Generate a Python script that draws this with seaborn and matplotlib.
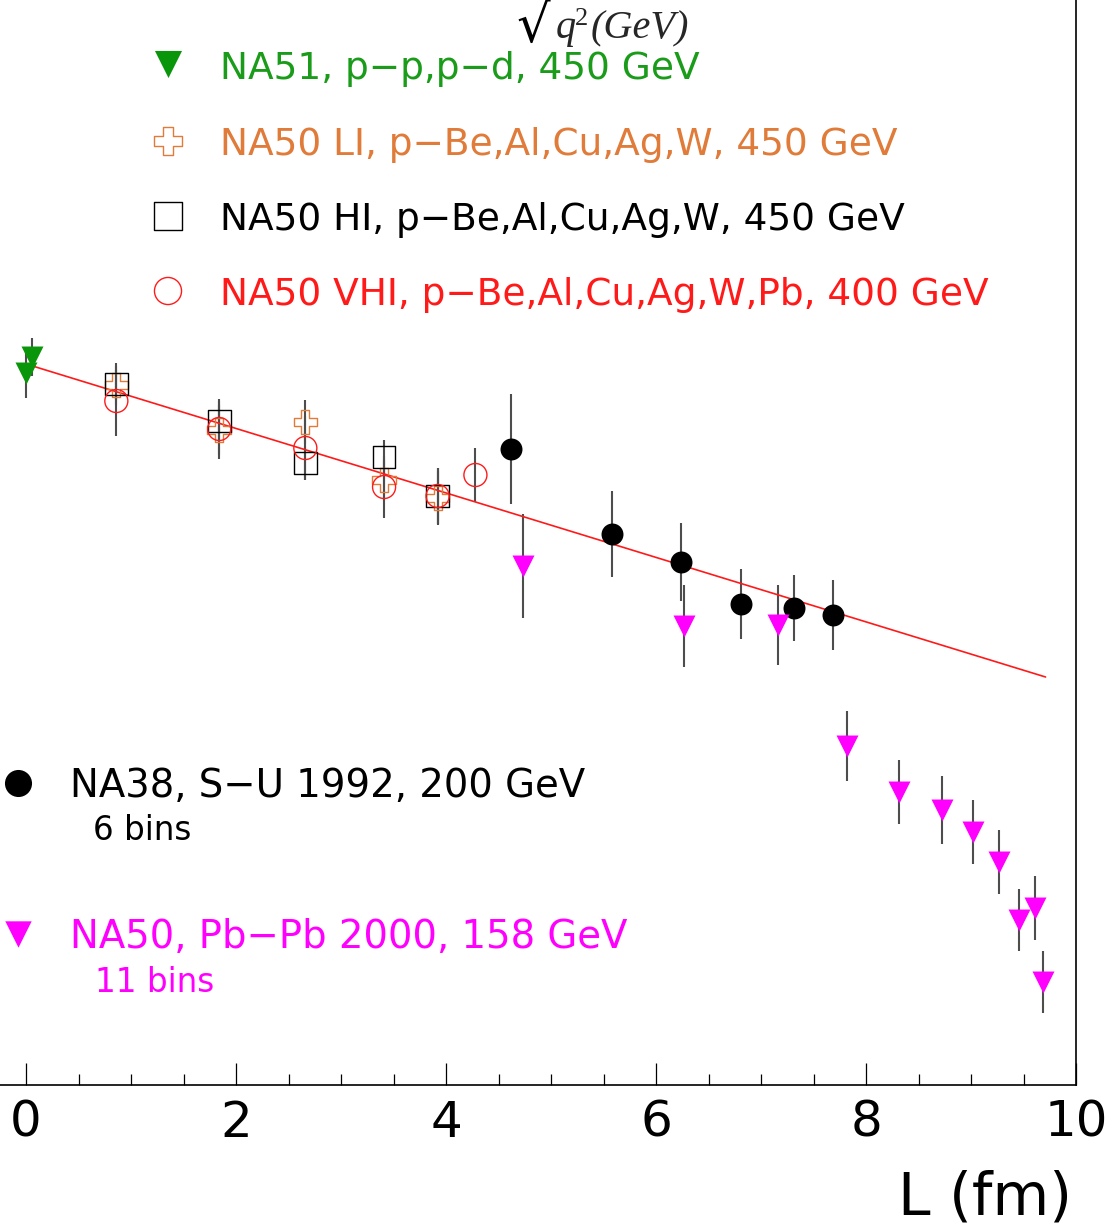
import seaborn as sns
import matplotlib.pyplot as plt
from matplotlib.ticker import MultipleLocator

# L (fm) and relative yield (arbitrary units)
na51_L = [0.06, 0.00]
na51_y = [7.28, 7.12]
na51_err = [0.19, 0.25]

na50_li_L = [0.86, 1.84, 2.66, 3.41, 3.92]
na50_li_y = [7.00, 6.55, 6.63, 6.05, 5.87]
na50_li_err = [0.15, 0.25, 0.22, 0.20, 0.27]

na50_hi_L = [0.86, 1.84, 2.66, 3.41, 3.92]
na50_hi_y = [7.01, 6.64, 6.22, 6.28, 5.89]
na50_hi_err = [0.21, 0.20, 0.17, 0.17, 0.28]

na50_vhi_L = [0.86, 1.84, 2.66, 3.41, 3.92, 4.28]
na50_vhi_y = [6.84, 6.56, 6.37, 5.98, 5.89, 6.10]
na50_vhi_err = [0.35, 0.30, 0.32, 0.31, 0.28, 0.27]

na38_L = [4.62, 5.58, 6.24, 6.81, 7.31, 7.69]
na38_y = [6.36, 5.51, 5.23, 4.81, 4.77, 4.70]
na38_err = [0.55, 0.43, 0.39, 0.35, 0.33, 0.35]

pbpb_L = [4.73, 6.27, 7.16, 7.82, 8.31, 8.72, 9.02, 9.27, 9.46, 9.61, 9.69]
pbpb_y = [5.19, 4.59, 4.60, 3.39, 2.93, 2.75, 2.53, 2.23, 1.65, 1.77, 1.03]
pbpb_err = [0.52, 0.41, 0.40, 0.35, 0.32, 0.34, 0.32, 0.32, 0.31, 0.32, 0.31]

# straight-line fit (absorption curve)
fit_L = [0.0, 9.71]
fit_y = [7.21, 4.08]

GREEN = '#0a960a'
ORANGE = '#e07b39'
RED = '#ff1a1a'
MAGENTA = '#ff00ff'

sns.set_style('white')
plt.rcParams['font.family'] = ['DejaVu Sans']

W, H = 1110, 1226
fig = plt.figure(figsize=(W / 100, H / 100), dpi=100)
ax = fig.add_axes([0, 1 - 1085 / H, 1076 / W, 1085 / H])

# (L, y, err, marker, colour, filled, size)
series = [
    (na51_L, na51_y, na51_err, 'v', GREEN, True, 250),
    (na50_li_L, na50_li_y, na50_li_err, 'P', ORANGE, False, 290),
    (na50_hi_L, na50_hi_y, na50_hi_err, 's', 'black', False, 270),
    (na50_vhi_L, na50_vhi_y, na50_vhi_err, 'o', RED, False, 275),
    (na38_L, na38_y, na38_err, 'o', 'black', True, 250),
    (pbpb_L, pbpb_y, pbpb_err, 'v', MAGENTA, True, 250),
]

for L, y, err, mk, col, filled, size in series:
    ax.errorbar(L, y, yerr=err, fmt='none', ecolor='0.3', elinewidth=1.5,
                capsize=0, zorder=2)
    if filled:
        sns.scatterplot(x=L, y=y, marker=mk, s=size, color=col, edgecolor=col,
                        linewidth=0, ax=ax, zorder=4, legend=False)
    else:
        sns.scatterplot(x=L, y=y, marker=mk, s=size, color=col, facecolors='none',
                        edgecolor=col, linewidth=1.0, ax=ax, zorder=4, legend=False)

sns.lineplot(x=fit_L, y=fit_y, color=RED, linewidth=1.2, ax=ax, zorder=3)

ax.set_xlim(-0.248, 10)
ax.set_ylim(0, 10.85)
ax.set_yticks([])
ax.set_ylabel('')
ax.xaxis.set_major_locator(MultipleLocator(2))
ax.xaxis.set_minor_locator(MultipleLocator(0.5))
ax.tick_params(axis='x', which='major', direction='in', length=15.8, width=0.9,
               pad=10, labelsize=36, bottom=True, color='black', labelcolor='black')
ax.tick_params(axis='x', which='minor', direction='in', length=7.9, width=0.9,
               bottom=True, color='black')
for side in ['left', 'top']:
    ax.spines[side].set_visible(False)
for side in ['bottom', 'right']:
    ax.spines[side].set_color('black')
    ax.spines[side].set_linewidth(1.2)

ax.set_xlabel('L (fm)', fontsize=42, color='black')
ax.xaxis.set_label_coords(1072 / 1076, (1085 - 1215) / 1085)
ax.xaxis.label.set_ha('right')
ax.xaxis.label.set_va('baseline')

# overlay in pixel units for the legend blocks and the top label
ov = fig.add_axes([0, 0, 1, 1])
ov.set_xlim(0, W)
ov.set_ylim(H, 0)
ov.axis('off')
ov.patch.set_alpha(0)

legend_rows = [
    ('v', GREEN, True, 64, 79, 'NA51, p\u2212p,p\u2212d, 450 GeV', '#1a9c1a'),
    ('P', ORANGE, False, 141, 155, 'NA50 LI, p\u2212Be,Al,Cu,Ag,W, 450 GeV', ORANGE),
    ('s', 'black', False, 216, 230, 'NA50 HI, p\u2212Be,Al,Cu,Ag,W, 450 GeV', 'black'),
    ('o', RED, False, 291, 305, 'NA50 VHI, p\u2212Be,Al,Cu,Ag,W,Pb, 400 GeV', RED),
]
for mk, col, filled, my, ty, label, tcol in legend_rows:
    if filled:
        ov.scatter([168], [my], marker=mk, s=380, color=col, linewidths=0)
    else:
        ov.scatter([168], [my], marker=mk, s=380, facecolors='none',
                   edgecolors=col, linewidths=1.0)
    ov.text(220, ty, label, color=tcol, fontsize=27, va='baseline', ha='left')

ov.scatter([18], [783], marker='o', s=380, color='black', linewidths=0)
ov.text(70, 797, 'NA38, S\u2212U 1992, 200 GeV', color='black', fontsize=27.8,
        va='baseline')
ov.text(93, 840, '6 bins', color='black', fontsize=23.5, va='baseline')

ov.scatter([18], [934], marker='v', s=360, color=MAGENTA, linewidths=0)
ov.text(70, 948, 'NA50, Pb\u2212Pb 2000, 158 GeV', color=MAGENTA, fontsize=27.8,
        va='baseline')
ov.text(95, 992, '11 bins', color=MAGENTA, fontsize=23.5, va='baseline')

# top label: sqrt(q^2) (GeV)
serif = ['Liberation Serif', 'DejaVu Serif']
ov.text(516, 42, '\u221a', fontsize=38, family=['DejaVu Serif'], va='baseline',
        ha='left', color='black')
ov.text(556, 38, 'q', fontsize=29, family=serif, style='italic', va='baseline')
ov.text(575, 25, '2', fontsize=19, family=serif, va='baseline')
ov.text(591, 38, '(GeV)', fontsize=29, family=serif, style='italic', va='baseline')

fig.savefig('out.png', dpi=100)
